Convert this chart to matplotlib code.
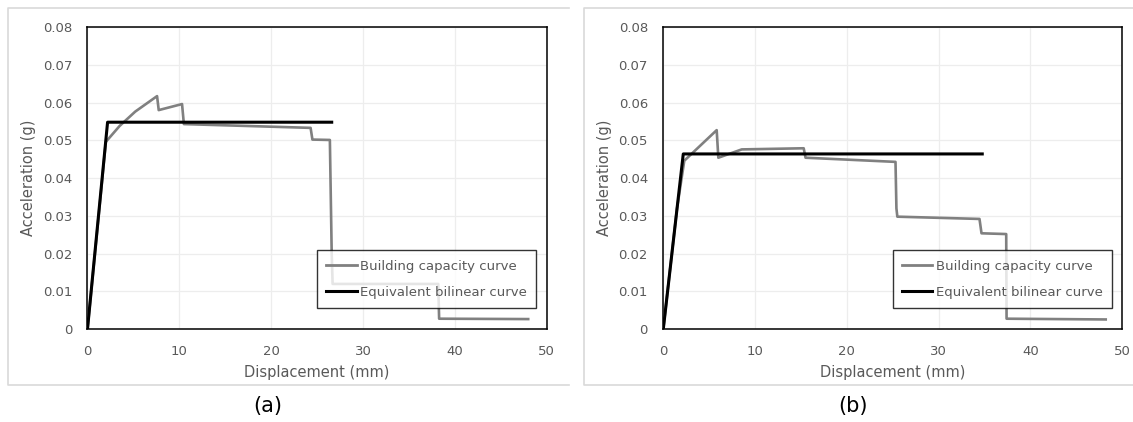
from matplotlib import pyplot as plt
from matplotlib.lines import Line2D

# panel (a)
CAPACITY_DISP_A = [0, 1.5, 2.0, 3.5, 5.2, 7.58, 7.76, 10.3, 10.5, 24.3, 24.5,
                   26.4, 26.6, 26.7, 38.2, 38.3, 48.0]
CAPACITY_ACC_A = [0, 0.037, 0.0496, 0.0538, 0.0576, 0.0617, 0.058, 0.0596,
                  0.0543, 0.0533, 0.0502, 0.0501, 0.02, 0.012, 0.012, 0.0028,
                  0.0027]
BILINEAR_DISP_A = [0, 2.19, 26.6]
BILINEAR_ACC_A = [0, 0.0548, 0.0548]

# panel (b)
CAPACITY_DISP_B = [0, 1.5, 2.29, 5.82, 6.0, 8.55, 15.3, 15.5, 25.3, 25.4,
                   25.5, 34.45, 34.67, 37.36, 37.4, 48.2]
CAPACITY_ACC_B = [0, 0.032, 0.0446, 0.0527, 0.0454, 0.0476, 0.0479, 0.0454,
                  0.0443, 0.032, 0.0298, 0.0292, 0.0254, 0.0252, 0.0028,
                  0.0026]
BILINEAR_DISP_B = [0, 2.18, 34.75]
BILINEAR_ACC_B = [0, 0.0464, 0.0464]

X_TICKS = [0, 10, 20, 30, 40, 50]
Y_TICKS = [0, 0.01, 0.02, 0.03, 0.04, 0.05, 0.06, 0.07, 0.08]
Y_TICK_LABELS = ["0", "0.01", "0.02", "0.03", "0.04", "0.05", "0.06", "0.07",
                 "0.08"]

LABEL_COLOR = "#595959"
GREY_CURVE = "#808080"
FRAME_COLOR = "#d9d9d9"

plt.rcParams["font.family"] = ["DejaVu Sans"]


def draw_panel(ax, cap_x, cap_y, bil_x, bil_y):
    ax.plot(cap_x, cap_y, color=GREY_CURVE, lw=1.9,
            solid_joinstyle="round", zorder=3)
    ax.plot(bil_x, bil_y, color="black", lw=2.2,
            solid_joinstyle="round", zorder=4)

    ax.set_xlim(0, 50)
    ax.set_ylim(0, 0.08)
    ax.set_xticks(X_TICKS)
    ax.set_yticks(Y_TICKS)
    ax.set_yticklabels(Y_TICK_LABELS)
    ax.tick_params(length=0, labelsize=9.5, labelcolor=LABEL_COLOR)
    ax.tick_params(axis="y", pad=11)
    ax.tick_params(axis="x", pad=11)
    ax.grid(True, color="#ededed", lw=0.9, zorder=0)
    ax.set_axisbelow(True)
    for spine in ax.spines.values():
        spine.set_color("black")
        spine.set_linewidth(1.1)

    ax.set_xlabel("Displacement (mm)", fontsize=10.5, color=LABEL_COLOR,
                  labelpad=5)
    ax.set_ylabel("Acceleration (g)", fontsize=10.5, color=LABEL_COLOR,
                  labelpad=5)

    handles = [Line2D([], [], color=GREY_CURVE, lw=2.0),
               Line2D([], [], color="black", lw=2.2)]
    leg = ax.legend(handles, ["Building capacity curve",
                              "Equivalent bilinear curve"],
                    loc="lower left", bbox_to_anchor=(0.5, 0.07),
                    fontsize=9.5, frameon=True, fancybox=False,
                    handlelength=2.3, handletextpad=0.25,
                    labelspacing=1.0, borderpad=0.7, borderaxespad=0)
    leg.get_frame().set_edgecolor("black")
    leg.get_frame().set_linewidth(1.0)
    leg.set_zorder(5)
    for text in leg.get_texts():
        text.set_color(LABEL_COLOR)


def draw_frame(fig, x0, x1, y0, y1):
    # light grey chart border, in pixels of the 1133x422 figure
    w, h = 1133.0, 422.0
    xs = [x1 / w, x0 / w, x0 / w, x1 / w]
    ys = [1 - y0 / h, 1 - y0 / h, 1 - y1 / h, 1 - y1 / h]
    fig.add_artist(Line2D(xs, ys, color=FRAME_COLOR, lw=1.2,
                          transform=fig.transFigure))


def main():
    fig = plt.figure(figsize=(11.33, 4.22), dpi=100)

    draw_frame(fig, 8, 569, 8, 385)
    draw_frame(fig, 584, 1140, 8, 385)

    ax_a = fig.add_axes([0.0772, 0.2197, 0.4052, 0.7164])
    ax_b = fig.add_axes([0.5854, 0.2197, 0.4051, 0.7164])

    draw_panel(ax_a, CAPACITY_DISP_A, CAPACITY_ACC_A,
               BILINEAR_DISP_A, BILINEAR_ACC_A)
    draw_panel(ax_b, CAPACITY_DISP_B, CAPACITY_ACC_B,
               BILINEAR_DISP_B, BILINEAR_ACC_B)

    fig.text(268 / 1133, 1 - 406 / 422, "(a)", fontsize=15,
             ha="center", va="center", color="black")
    fig.text(853 / 1133, 1 - 406 / 422, "(b)", fontsize=15,
             ha="center", va="center", color="black")

    fig.savefig("out.png", dpi=100)


if __name__ == "__main__":
    main()
